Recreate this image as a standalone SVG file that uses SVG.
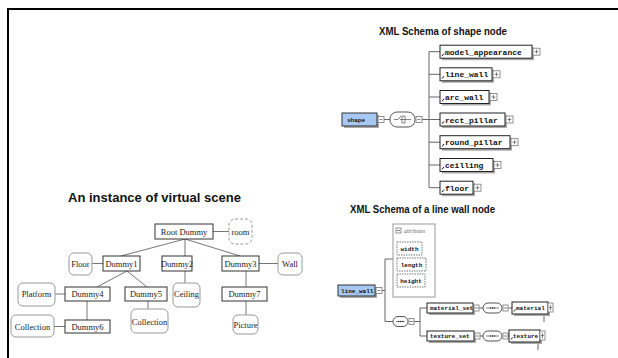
<svg xmlns="http://www.w3.org/2000/svg" width="618" height="358" viewBox="0 0 618 358">
<defs>
<style>
.frame{stroke:#000;stroke-width:2;fill:none}
.title{font-family:"Liberation Sans",Arial,sans-serif;font-weight:bold;fill:#111}
.tn{fill:#fff;stroke:#333;stroke-width:1}
.rn{fill:#fff;stroke:#999;stroke-width:1}
.dn{fill:#fff;stroke:#999;stroke-width:1;stroke-dasharray:3,2}
.tt{font-family:"Liberation Serif","Times New Roman",serif;font-size:8.5px;fill:#222;text-anchor:middle}
.ln{stroke:#777;stroke-width:1;fill:none}
.sl{stroke:#666;stroke-width:1;fill:none}
.sh{fill:#aaa}
.el{fill:#fff;stroke:#222;stroke-width:1}
.blue{fill:#a6c8f2;stroke:#333;stroke-width:1}
.et{font-family:"Liberation Mono","Courier New",monospace;font-weight:bold;font-size:8px;fill:#111}
.es{font-family:"Liberation Mono","Courier New",monospace;font-weight:bold;font-size:6px;fill:#111}
.bx{fill:#fff;stroke:#777;stroke-width:0.8}
.pm{stroke:#666;stroke-width:0.8;fill:none}
.ov{fill:#fff;stroke:#555;stroke-width:1}
.at{fill:#fff;stroke:#999;stroke-width:1}
.ad{fill:#fff;stroke:#777;stroke-width:1;stroke-dasharray:1.5,1}
.ref{stroke:#111;stroke-width:1;fill:none}
</style>
</defs>
<rect width="618" height="358" fill="#fff"/>
<path class="frame" d="M7 9H618M8 9V358"/>

<!-- Left: instance tree -->
<text class="title" x="68" y="202" font-size="13" textLength="173" lengthAdjust="spacingAndGlyphs">An instance of virtual scene</text>
<g id="tree-connectors">
<path class="ln" d="M213 231.5H229M185 239L121 256M185 239V256M185 239L240 256M92 263.5H103M259 263.5H278M127 271L97 287M127 271L147 287M185 271V283M246 271V287M55 294H65M87 301V320M148 301V309M246 301V315M54 326.5H65"/>
</g>
<g id="n-root"><rect class="tn" x="155" y="224" width="58" height="15"/><text class="tt" x="184" y="234.5">Root Dummy</text></g>
<g id="n-room"><rect class="dn" x="229" y="219" width="23" height="25" rx="6"/><text class="tt" x="240.5" y="234.5">room</text></g>
<g id="n-dummy1"><rect class="tn" x="103" y="256" width="37" height="15"/><text class="tt" x="121.5" y="266.5">Dummy1</text></g>
<g id="n-floor"><rect class="rn" x="69" y="253" width="23" height="22" rx="5"/><text class="tt" x="80.5" y="266.5">Floor</text></g>
<g id="n-dummy2"><rect class="tn" x="162" y="256" width="30" height="15"/><text class="tt" x="177" y="266.5">Dummy2</text></g>
<g id="n-dummy3"><rect class="tn" x="222" y="256" width="37" height="15"/><text class="tt" x="240.5" y="266.5">Dummy3</text></g>
<g id="n-wall"><rect class="rn" x="278" y="253" width="24" height="22" rx="5"/><text class="tt" x="290" y="266.5">Wall</text></g>
<g id="n-dummy4"><rect class="tn" x="65" y="287" width="45" height="14"/><text class="tt" x="87.5" y="297">Dummy4</text></g>
<g id="n-platform"><rect class="rn" x="18" y="283" width="37" height="23" rx="5"/><text class="tt" x="36.5" y="297">Platform</text></g>
<g id="n-dummy5"><rect class="tn" x="125" y="287" width="42" height="14"/><text class="tt" x="146" y="297">Dummy5</text></g>
<g id="n-ceiling"><rect class="rn" x="173" y="283" width="27" height="24" rx="5"/><text class="tt" x="186.5" y="297">Ceiling</text></g>
<g id="n-dummy7"><rect class="tn" x="222" y="287" width="45" height="14"/><text class="tt" x="244.5" y="297">Dummy7</text></g>
<g id="n-dummy6"><rect class="tn" x="65" y="320" width="45" height="13"/><text class="tt" x="87.5" y="329.5">Dummy6</text></g>
<g id="n-collection1"><rect class="rn" x="11" y="315" width="43" height="22" rx="5"/><text class="tt" x="32.5" y="329.5">Collection</text></g>
<g id="n-collection2"><rect class="rn" x="131" y="309" width="37" height="24" rx="5"/><text class="tt" x="149.5" y="325">Collection</text></g>
<g id="n-picture"><rect class="rn" x="233" y="315" width="25" height="19" rx="5"/><text class="tt" x="245.5" y="327.5">Picture</text></g>

<!-- Right top: shape schema -->
<text class="title" x="379" y="35" font-size="10.5" textLength="128" lengthAdjust="spacingAndGlyphs">XML Schema of shape node</text>
<g id="shape-connectors">
<path class="sl" d="M384 119.5H390M422 119.5H429M429 51.7V187.7M429 51.7H440M429 74.3H440M429 97H440M429 119.5H440M429 142.2H440M429 165H440M429 187.7H440"/>
</g>
<g id="s-shape">
<rect class="sh" x="344" y="115" width="35" height="13"/>
<rect class="blue" x="342" y="113" width="35" height="13"/>
<text class="es" x="347" y="122" font-size="6.5">shape</text>
<rect class="bx" x="378" y="116.5" width="6" height="6"/><path class="pm" d="M379.5 119.5H382.5"/>
</g>
<g id="s-choice">
<rect class="ov" x="390" y="112" width="25" height="15" rx="7"/>
<path class="pm" d="M394 119.5H398L401 116M400 119.5H411M402 116V123M405 116V123M402 116H405M402 123H405"/>
<rect class="bx" x="416" y="116.5" width="6" height="6"/><path class="pm" d="M417.5 119.5H420.5"/>
</g>
<g id="s-model_appearance">
<rect class="sh" x="442" y="47.2" width="92" height="13"/>
<rect class="el" x="440" y="45.2" width="92" height="13"/>
<path class="ref" d="M442 56L444 53.5"/>
<text class="et" x="445" y="54.7">model_appearance</text>
<rect class="bx" x="533" y="48.2" width="7" height="7"/><path class="pm" d="M534.5 51.7H538.5M536.5 49.7V53.7"/>
</g>
<g id="s-line_wall">
<rect class="sh" x="442" y="69.8" width="52" height="13"/>
<rect class="el" x="440" y="67.8" width="52" height="13"/>
<path class="ref" d="M442 78.6L444 76.1"/>
<text class="et" x="445" y="77.3">line_wall</text>
<rect class="bx" x="493" y="70.8" width="7" height="7"/><path class="pm" d="M494.5 74.3H498.5M496.5 72.3V76.3"/>
</g>
<g id="s-arc_wall">
<rect class="sh" x="442" y="92.5" width="49" height="13"/>
<rect class="el" x="440" y="90.5" width="49" height="13"/>
<path class="ref" d="M442 101.3L444 98.8"/>
<text class="et" x="445" y="100">arc_wall</text>
<rect class="bx" x="490" y="93.5" width="7" height="7"/><path class="pm" d="M491.5 97H495.5M493.5 95V99"/>
</g>
<g id="s-rect_pillar">
<rect class="sh" x="442" y="115" width="65" height="13"/>
<rect class="el" x="440" y="113" width="65" height="13"/>
<path class="ref" d="M442 123.8L444 121.3"/>
<text class="et" x="445" y="122.5">rect_pillar</text>
<rect class="bx" x="506" y="116" width="7" height="7"/><path class="pm" d="M507.5 119.5H511.5M509.5 117.5V121.5"/>
</g>
<g id="s-round_pillar">
<rect class="sh" x="442" y="137.7" width="70" height="13"/>
<rect class="el" x="440" y="135.7" width="70" height="13"/>
<path class="ref" d="M442 146.5L444 144"/>
<text class="et" x="445" y="145.2">round_pillar</text>
<rect class="bx" x="511" y="138.7" width="7" height="7"/><path class="pm" d="M512.5 142.2H516.5M514.5 140.2V144.2"/>
</g>
<g id="s-ceilling">
<rect class="sh" x="442" y="160.5" width="53" height="13"/>
<rect class="el" x="440" y="158.5" width="53" height="13"/>
<path class="ref" d="M442 169.3L444 166.8"/>
<text class="et" x="445" y="168">ceilling</text>
<rect class="bx" x="494" y="161.5" width="7" height="7"/><path class="pm" d="M495.5 165H499.5M497.5 163V167"/>
</g>
<g id="s-floor">
<rect class="sh" x="442" y="183.2" width="33" height="13"/>
<rect class="el" x="440" y="181.2" width="33" height="13"/>
<path class="ref" d="M442 192L444 189.5"/>
<text class="et" x="445" y="190.7">floor</text>
<rect class="bx" x="474" y="184.2" width="7" height="7"/><path class="pm" d="M475.5 187.7H479.5M477.5 185.7V189.7"/>
</g>

<!-- Right bottom: line wall schema -->
<text class="title" x="350" y="213" font-size="10.5" textLength="145" lengthAdjust="spacingAndGlyphs">XML Schema of a line wall node</text>
<g id="lw-connectors">
<path class="sl" d="M382 290.5H385M385 259V321.5M385 259H393M385 321.5H393M414 321.5H420M420 308V336M420 308H427M420 336H427M479 308H483M508 308H512M480 336H483M508 336H509M544 315V322M538 343V350"/>
</g>
<g id="lw-line_wall">
<rect class="sh" x="340" y="287" width="37" height="11"/>
<rect class="blue" x="338" y="285" width="37" height="11"/>
<text class="es" x="341" y="292.5" font-size="5.8">line_wall</text>
<rect class="bx" x="376" y="287.5" width="6" height="6"/><path class="pm" d="M377.5 290.5H380.5"/>
</g>
<g id="lw-attributes">
<rect class="at" x="393" y="224" width="42" height="73"/>
<rect class="bx" x="396" y="228" width="5" height="5"/><path class="pm" d="M397 230.5H400"/>
<text x="404" y="232.5" font-family="Liberation Serif,serif" font-style="italic" font-size="5.5" fill="#666">attributes</text>
<rect class="ad" x="397" y="242" width="25" height="13"/><text class="es" x="409.5" y="250.5" text-anchor="middle">width</text>
<rect class="ad" x="397" y="258" width="29" height="13"/><text class="es" x="411.5" y="266.5" text-anchor="middle">length</text>
<rect class="ad" x="397" y="274" width="28" height="13"/><text class="es" x="411" y="282.5" text-anchor="middle">height</text>
</g>
<g id="lw-sequence">
<rect class="ov" x="393" y="316.5" width="15" height="10" rx="5"/>
<path class="pm" d="M396 321.5H405"/><circle cx="398.5" cy="321.5" r="0.7" fill="#333"/><circle cx="400.5" cy="321.5" r="0.7" fill="#333"/><circle cx="402.5" cy="321.5" r="0.7" fill="#333"/>
<rect class="bx" x="409" y="318.5" width="5" height="6"/><path class="pm" d="M410 321.5H413"/>
</g>
<g id="lw-material_set">
<rect class="sh" x="429" y="305" width="46" height="10"/>
<rect class="el" x="427" y="303" width="46" height="10"/>
<text class="es" x="430" y="310" font-size="5.6">material_set</text>
<rect class="bx" x="474" y="305" width="5" height="6"/><path class="pm" d="M475 308H478"/>
</g>
<g id="lw-material_seq">
<rect class="ov" x="483" y="303" width="19" height="10" rx="5"/>
<path class="pm" d="M486 308H499"/><circle cx="490.5" cy="308" r="0.7" fill="#333"/><circle cx="492.5" cy="308" r="0.7" fill="#333"/><circle cx="494.5" cy="308" r="0.7" fill="#333"/>
<rect class="bx" x="503" y="305" width="5" height="6"/><path class="pm" d="M504 308H507"/>
</g>
<g id="lw-material">
<rect class="sh" x="514" y="304" width="36" height="12"/>
<rect class="el" x="512" y="302" width="36" height="12"/>
<path class="ref" d="M514 311.5L515.5 309.5"/>
<text class="es" x="516" y="310" font-size="5.8">material</text>
<rect class="bx" x="548" y="303" width="5" height="9"/><path class="pm" d="M549 307.5H552M550.5 305V310"/>
</g>
<g id="lw-texture_set">
<rect class="sh" x="429" y="333" width="47" height="10"/>
<rect class="el" x="427" y="331" width="47" height="10"/>
<text class="es" x="430" y="338" font-size="5.6">texture_set</text>
<rect class="bx" x="475" y="333" width="5" height="6"/><path class="pm" d="M476 336H479"/>
</g>
<g id="lw-texture_seq">
<rect class="ov" x="483" y="331" width="19" height="10" rx="5"/>
<path class="pm" d="M486 336H499"/><circle cx="490.5" cy="336" r="0.7" fill="#333"/><circle cx="492.5" cy="336" r="0.7" fill="#333"/><circle cx="494.5" cy="336" r="0.7" fill="#333"/>
<rect class="bx" x="503" y="333" width="5" height="6"/><path class="pm" d="M504 336H507"/>
</g>
<g id="lw-texture">
<rect class="sh" x="511" y="332" width="31" height="12"/>
<rect class="el" x="509" y="330" width="31" height="12"/>
<path class="ref" d="M511 339.5L512.5 337.5"/>
<text class="es" x="513" y="338" font-size="5.8">texture</text>
<rect class="bx" x="540" y="331" width="5" height="9"/><path class="pm" d="M541 335.5H544M542.5 333V338"/>
</g>
</svg>
